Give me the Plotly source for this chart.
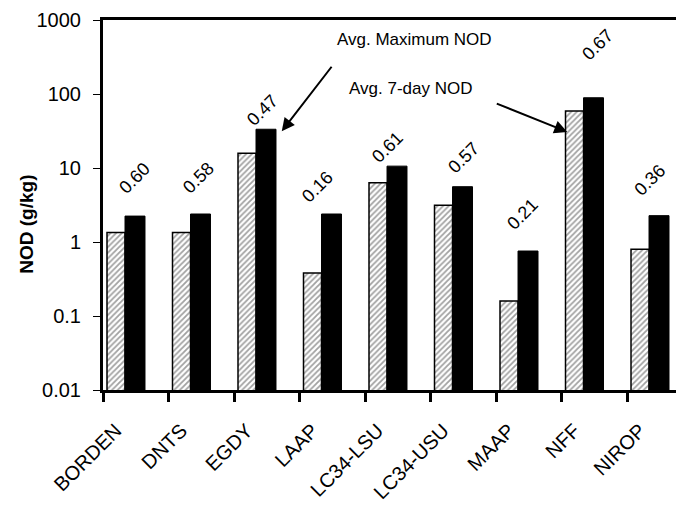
import math
import plotly.graph_objects as go

# ---- data ----
categories = ["BORDEN", "DNTS", "EGDY", "LAAP", "LC34-LSU", "LC34-USU", "MAAP", "NFF", "NIROP"]
avg_7day_nod = [1.34, 1.34, 15.8, 0.38, 6.33, 3.13, 0.16, 59.0, 0.80]
avg_max_nod = [2.24, 2.39, 33.4, 2.39, 10.6, 5.59, 0.755, 89.0, 2.27]
ratio_labels = ["0.60", "0.58", "0.47", "0.16", "0.61", "0.57", "0.21", "0.67", "0.36"]
y_tickvals = [0.01, 0.1, 1, 10, 100, 1000]
y_ticktext = ["0.01", "0.1", "1", "10", "100", "1000"]

# ---- styling ----
FONT = "Liberation Sans, Arial, sans-serif"
label_xshift = [-1, -3, -4, -15, -10, 0, -6, 3, -10]
label_yshift = [38, 36, 19, 27, 19, 29, 37, 53, 36]

fig = go.Figure()
fig.add_trace(go.Bar(
    x=categories, y=avg_7day_nod, name="Avg. 7-day NOD",
    offset=-0.439, width=0.275,
    marker=dict(color="white",
                pattern=dict(shape="/", size=4, solidity=0.45, fgcolor="#444444", bgcolor="white"),
                line=dict(color="black", width=1.5)),
))
fig.add_trace(go.Bar(
    x=categories, y=avg_max_nod, name="Avg. Maximum NOD",
    offset=-0.164, width=0.305,
    marker=dict(color="black", line=dict(color="black", width=1)),
))

annotations = []
for i, (c, v, t) in enumerate(zip(categories, avg_max_nod, ratio_labels)):
    annotations.append(dict(
        x=c, y=math.log10(v), xref="x", yref="y", text=t, showarrow=False,
        textangle=-45, xanchor="center", yanchor="middle",
        xshift=label_xshift[i], yshift=label_yshift[i],
        font=dict(family=FONT, size=18, color="black"),
    ))

# arrows
annotations.append(dict(
    x="EGDY", y=math.log10(avg_max_nod[2]), xref="x", yref="y", text="",
    xshift=15, yshift=-2, showarrow=True, ax=51, ay=-66,
    arrowhead=2, arrowsize=1.3, arrowwidth=2, arrowcolor="black",
))
annotations.append(dict(
    x="NFF", y=math.log10(avg_7day_nod[7]), xref="x", yref="y", text="",
    xshift=-27, yshift=-21, showarrow=True, ax=-72, ay=-29,
    arrowhead=2, arrowsize=1.3, arrowwidth=2, arrowcolor="black",
))
annotations.append(dict(
    x=0.399, y=0.946, xref="paper", yref="paper", text="Avg. Maximum NOD",
    showarrow=False, xanchor="left", yanchor="middle",
    font=dict(family=FONT, size=17, color="black"),
))
annotations.append(dict(
    x=0.420, y=0.816, xref="paper", yref="paper", text="Avg. 7-day NOD",
    showarrow=False, xanchor="left", yanchor="middle",
    font=dict(family=FONT, size=17, color="black"),
))
# y-axis title
annotations.append(dict(
    x=-0.131, y=0.449, xref="paper", yref="paper", text="<b>NOD (g/kg)</b>",
    showarrow=False, xanchor="center", yanchor="middle", textangle=-90,
    font=dict(family=FONT, size=19, color="black"),
))

fig.update_layout(
    width=684, height=506,
    margin=dict(l=95, r=8, t=12, b=124, autoexpand=False),
    paper_bgcolor="white", plot_bgcolor="white",
    barmode="overlay", showlegend=False,
    font=dict(family=FONT, size=18, color="black"),
    annotations=annotations,
)
fig.update_xaxes(
    type="category", range=[-0.5, 8.37], automargin=False,
    showline=True, linecolor="black", linewidth=3, mirror=True,
    ticks="outside", tickson="boundaries", ticklen=9, tickwidth=3, tickcolor="black",
    tickangle=-45, tickfont=dict(family=FONT, size=20, color="black"),
    ticklabelstandoff=18, ticklabelshift=-20,
    showgrid=False, zeroline=False,
)
fig.update_yaxes(
    type="log", range=[-2, 3], automargin=False,
    tickvals=y_tickvals, ticktext=y_ticktext,
    showline=True, linecolor="black", linewidth=3,
    ticks="outside", ticklen=7, tickwidth=1, tickcolor="black",
    tickfont=dict(family=FONT, size=20, color="black"),
    ticklabelstandoff=8,
    showgrid=False, zeroline=False,
)

fig.write_html("out.html")
